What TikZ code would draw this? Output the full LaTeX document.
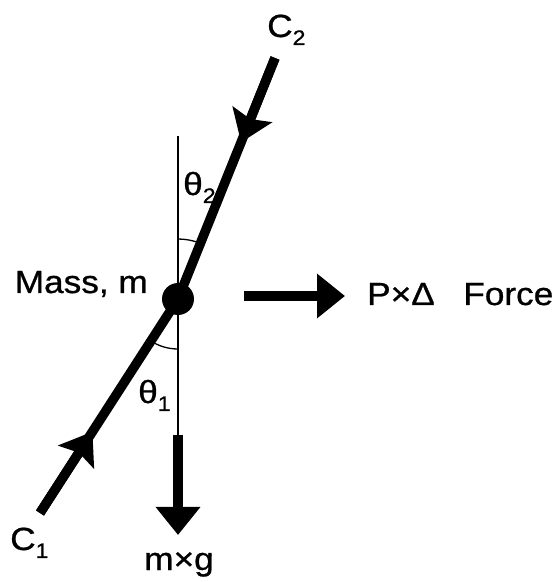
\documentclass[tikz,border=0pt]{standalone}
\usepackage{fontspec}
\setmainfont{Liberation Sans}
\usetikzlibrary{arrows.meta,calc}
\newcommand{\lowsub}[1]{\raisebox{-8pt}{\fontsize{21}{21}\selectfont #1}}
\tikzset{
  lbl/.style={font=\fontsize{32}{36}\selectfont\addfontfeatures{FakeBold=0.8},
    inner sep=0pt, xscale=1.1},
  rod/.style={line width=9.5pt},
  thinline/.style={line width=1.3pt},
  force/.style={line width=10pt, -{Triangle[length=28pt,width=43pt]}},
  cabletip/.style={-{Stealth[length=30pt,width=42pt,inset=5pt]}},
}

\begin{document}
\begin{tikzpicture}[x=1pt,y=1pt]
  \useasboundingbox (0,0) rectangle (559,582);

  % Vertical line and mass
  \coordinate (vtop) at (178,446);
  \coordinate (wstart) at (178,147);
  \coordinate (wtip) at (178,47);
  \draw[thinline] (vtop) -- (wstart);
  \node[circle, fill, minimum size=32pt, inner sep=0pt] (mass) at (178,283) {};

  % Cables
  \coordinate (c2end) at (275,524);
  \coordinate (c1end) at (40,69);
  \draw[rod] (c2end) -- (mass.center);
  \draw[rod] (c1end) -- (mass.center);
  \draw[rod, cabletip] (c2end) -- ($(c2end)!0.35!(mass.center)$);
  \draw[rod, cabletip] (c1end) -- ($(c1end)!0.38!(mass.center)$);

  % Angles
  \draw[thinline] (mass.center) ++(90:60) arc[start angle=90, end angle=68, radius=60];
  \draw[thinline] (mass.center) ++(270:50) arc[start angle=270, end angle=237, radius=50];

  % Forces
  \coordinate (pstart) at (244,286);
  \coordinate (ptip) at (345,286);
  \draw[force] (wstart) -- (wtip);
  \draw[force] (pstart) -- (ptip);

  % Labels
  \node[lbl, anchor=base east] (masslbl) at (148,289) {Mass, m};
  \node[lbl, anchor=base west] (c2lbl) at (267,545) {C\lowsub{2}};
  \node[lbl, anchor=base west] (c1lbl) at (10,32) {C\lowsub{1}};
  \node[lbl, anchor=base west] (th2lbl) at (183,387) {θ\lowsub{2}};
  \node[lbl, anchor=base west] (th1lbl) at (138,179) {θ\lowsub{1}};
  \node[lbl, anchor=base] (weightlbl) at (179,12) {m×g};
  \node[lbl, anchor=base west] (plbl) at (367,277) {P×Δ\hspace{26pt}Force};
\end{tikzpicture}
\end{document}
